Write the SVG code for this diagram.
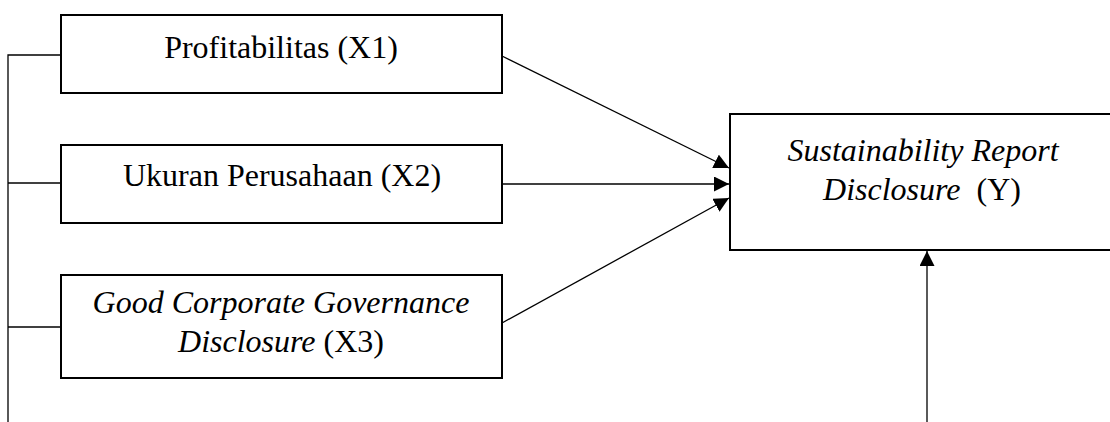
<svg xmlns="http://www.w3.org/2000/svg" width="1110" height="422" viewBox="0 0 1110 422">
<style>
.box{fill:#fff;stroke:#000;stroke-width:2}
.t{font-family:"Liberation Serif","Times New Roman",serif;font-size:32px;fill:#000;text-anchor:middle}
.i{font-style:italic}
.c{fill:none;stroke:#000;stroke-width:1.3}
</style>
<defs>
<marker id="ah" viewBox="0 0 10 10" refX="10" refY="5" markerWidth="15" markerHeight="15" markerUnits="userSpaceOnUse" orient="auto">
<path d="M0,0 L10,5 L0,10 Z" fill="#000"/>
</marker>
</defs>
<g id="connectors">
<polyline class="c" points="61,55 8,55 8,422"/>
<line class="c" x1="8" y1="183" x2="61" y2="183"/>
<line class="c" x1="8" y1="327" x2="61" y2="327"/>
<line class="c" x1="502" y1="56" x2="729" y2="168" marker-end="url(#ah)"/>
<line class="c" x1="502" y1="184" x2="729" y2="184" marker-end="url(#ah)"/>
<line class="c" x1="502" y1="323" x2="729" y2="198" marker-end="url(#ah)"/>
<line class="c" x1="927" y1="422" x2="927" y2="251" marker-end="url(#ah)"/>
</g>
<g id="x1">
<rect class="box" x="61" y="15" width="441" height="78"/>
<text class="t" x="281" y="58">Profitabilitas (X1)</text>
</g>
<g id="x2">
<rect class="box" x="61" y="145" width="441" height="78"/>
<text class="t" x="282" y="186">Ukuran Perusahaan (X2)</text>
</g>
<g id="x3">
<rect class="box" x="61" y="275" width="441" height="103"/>
<text class="t i" x="281" y="313">Good Corporate Governance</text>
<text class="t" x="281" y="352"><tspan class="i">Disclosure</tspan> (X3)</text>
</g>
<g id="y">
<rect class="box" x="730" y="114" width="384" height="136"/>
<text class="t i" x="923" y="161">Sustainability Report</text>
<text class="t" x="922" y="200" xml:space="preserve"><tspan class="i">Disclosure</tspan>  (Y)</text>
</g>
</svg>
